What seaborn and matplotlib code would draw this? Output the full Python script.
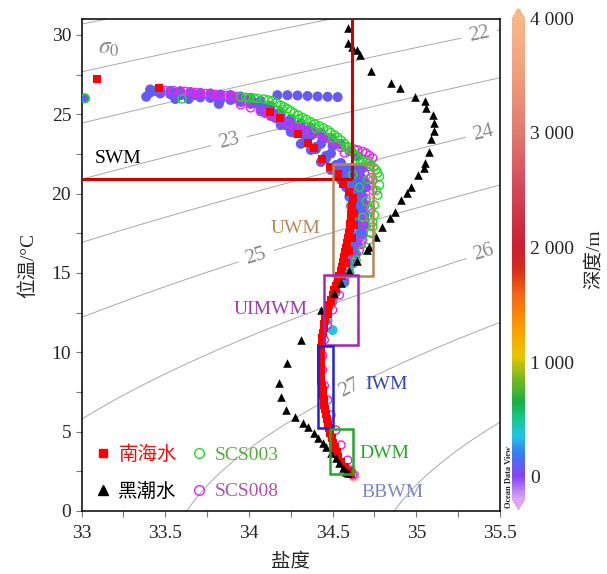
import numpy as np
import pandas as pd
import matplotlib
matplotlib.use("Agg")
import matplotlib.pyplot as plt
import seaborn as sns
from matplotlib.colors import LinearSegmentedColormap, Normalize
from matplotlib.cm import ScalarMappable
from matplotlib.lines import Line2D
from matplotlib.patches import Rectangle
from matplotlib.ticker import MultipleLocator

# ---------------- data ----------------
# South China Sea water (red squares)
scs_S = [33.09, 33.464, 34.126, 34.186, 34.296, 34.35, 34.386, 34.436, 34.486, 34.53,
         34.564, 34.596, 34.62, 34.616,
         34.613, 34.611, 34.608, 34.605, 34.601, 34.597, 34.592, 34.587, 34.582, 34.576,
         34.570, 34.563, 34.556, 34.549, 34.541, 34.532, 34.522, 34.510, 34.500, 34.490,
         34.480, 34.471, 34.463, 34.456, 34.450, 34.446, 34.442, 34.438, 34.435, 34.433,
         34.432, 34.430, 34.430, 34.430, 34.430, 34.431, 34.433, 34.436, 34.440, 34.443,
         34.446, 34.449, 34.453, 34.459, 34.465, 34.472, 34.479, 34.486, 34.494, 34.502,
         34.513, 34.524, 34.535, 34.552, 34.573, 34.595, 34.608,
         34.63, 34.625, 34.615, 34.60, 34.58, 34.555, 34.52, 34.49, 34.47]
scs_T = [27.22, 26.63, 25.16, 24.78, 23.76, 23.17, 22.85, 22.2, 21.66, 21.22,
         20.59, 20.08, 19.7, 19.28,
         19.0, 18.7, 18.4, 18.1, 17.8, 17.5, 17.2, 16.9, 16.6, 16.3,
         16.0, 15.7, 15.4, 15.1, 14.8, 14.5, 14.2, 13.9, 13.6, 13.3,
         13.0, 12.7, 12.4, 12.1, 11.8, 11.5, 11.2, 10.9, 10.6, 10.3,
         10.0, 9.7, 9.4, 9.1, 8.8, 8.5, 8.2, 7.9, 7.6, 7.3,
         7.0, 6.7, 6.4, 6.1, 5.8, 5.5, 5.2, 4.9, 4.6, 4.3,
         4.0, 3.7, 3.4, 3.1, 2.8, 2.5, 2.3,
         18.8, 18.0, 17.2, 16.4, 15.6, 14.8, 14.0, 13.2, 12.4]

# Kuroshio water (black triangles)
ksw_S = [34.59, 34.59, 34.616, 34.646, 34.664, 34.73, 34.85, 34.90, 34.99, 35.054,
         35.06, 35.10, 35.106, 35.106, 35.09, 35.076, 35.052, 35.046, 35.01, 34.97,
         34.946, 34.91, 34.874, 34.842, 34.796, 34.76, 34.72, 34.706, 34.646, 34.60,
         34.55, 34.506, 34.43, 34.31, 34.23, 34.18, 34.19, 34.22, 34.276, 34.324,
         34.352, 34.386, 34.41, 34.44, 34.46, 34.49, 34.52, 34.54, 34.56, 34.58, 34.594]
ksw_T = [30.42, 29.51, 29.26, 29.05, 28.73, 27.73, 26.95, 26.67, 26.1, 25.83,
         25.41, 24.95, 24.47, 23.96, 23.46, 22.64, 21.9, 21.6, 21.17, 20.43,
         20.02, 19.6, 18.86, 18.48, 17.88, 17.25, 16.62, 16.45, 15.77, 15.12,
         14.35, 13.72, 12.67, 10.78, 9.3, 8.04, 7.2, 6.36, 5.9, 5.52,
         5.29, 4.93, 4.58, 4.27, 4.01, 3.64, 3.32, 3.0, 2.69, 2.48, 2.38]

# station SCS003 (green open circles)
scs003_S = [33.02, 33.60, 33.95, 33.98, 34.0, 34.03, 34.05, 34.09, 34.14, 34.19, 34.23,
            34.27, 34.32, 34.37, 34.42, 34.47, 34.51, 34.55, 34.59, 34.63, 34.66,
            34.70, 34.73, 34.76, 34.78, 34.78, 34.77, 34.75, 34.75, 34.74, 34.72,
            34.68, 34.64, 34.60, 34.62, 34.66, 34.70, 34.68, 34.71, 34.73,
            34.115, 34.165, 34.21, 34.25, 34.295, 34.345, 34.395, 34.445, 34.49, 34.53,
            34.57, 34.61, 34.645, 34.68, 34.715, 34.745, 34.77,
            34.20, 34.30, 34.40, 34.50, 34.58, 34.76, 34.74, 34.73]
scs003_T = [26.0, 25.96, 26.09, 26.06, 26.02, 26.01, 26.0, 25.96, 25.85, 25.58, 25.35,
            25.08, 24.8, 24.53, 24.27, 24.0, 23.7, 23.38, 22.96, 22.5, 22.15,
            22.0, 21.8, 21.5, 21.07, 20.54, 19.9, 19.28, 18.65, 17.91, 17.08,
            16.45, 15.82, 15.19, 21.2, 20.4, 19.5, 18.5, 20.9, 19.0,
            25.9, 25.72, 25.47, 25.22, 24.95, 24.67, 24.4, 24.14, 23.85, 23.55,
            23.18, 22.73, 22.33, 22.08, 21.9, 21.65, 21.3,
            25.3, 24.7, 24.1, 23.5, 22.9, 20.2, 18.2, 17.5]

# station SCS008 (magenta open circles)
scs008_S = [33.59, 33.62, 33.65, 33.68, 33.71, 33.74, 33.77, 33.80, 33.83, 33.86,
            33.89, 33.95, 34.01, 34.07, 34.13, 34.2, 34.27, 34.33, 34.41, 34.47,
            34.53, 34.57, 34.65, 34.70, 34.74, 34.71, 34.69, 34.74, 34.74, 34.71,
            34.70, 34.68, 34.66, 34.63, 34.61, 34.57, 34.54, 34.50, 34.47, 34.45,
            34.44, 34.44, 34.45, 34.47, 34.49, 34.52, 34.55, 34.59, 34.61, 34.62,
            34.10, 34.17, 34.24, 34.30, 34.37, 34.44, 34.50, 34.55, 34.60, 34.63,
            34.68, 34.72, 34.72, 34.73, 34.72, 34.70, 34.71, 34.69, 34.67,
            33.92, 33.98, 33.55, 33.50]
scs008_T = [26.47, 26.44, 26.40, 26.37, 26.34, 26.31, 26.28, 26.25, 26.21, 26.18,
            26.15, 25.6, 25.4, 25.16, 24.95, 24.6, 24.2, 24.0, 23.8, 23.48,
            23.17, 22.56, 22.75, 22.56, 22.24, 22.12, 21.3, 20.86, 20.2, 19.17,
            17.91, 17.08, 16.45, 16.02, 15.6, 14.56, 13.6, 12.67, 11.7, 10.78,
            9.8, 8.9, 7.9, 7.0, 6.05, 5.1, 4.16, 3.2, 2.58, 2.27,
            25.05, 24.78, 24.4, 24.1, 23.9, 23.65, 23.3, 22.9, 22.65, 22.8,
            22.65, 22.4, 21.7, 21.0, 20.5, 19.7, 18.6, 18.3, 16.8,
            26.12, 25.85, 26.48, 26.5]

# Ocean Data View background profiles (coloured by depth, m)
odv_surface_S = [33.02, 33.386, 33.56, 33.64, 33.82,
                 33.41, 33.47, 33.53, 33.59, 33.65, 33.71, 33.77, 33.83, 33.89, 33.95,
                 34.01, 34.07, 34.13, 34.19, 34.25, 34.31, 34.37, 34.43, 34.49, 34.55,
                 33.41, 33.47, 33.53, 33.59, 33.65, 33.71, 33.77, 33.83, 33.89, 33.95,
                 34.01, 34.07, 34.13, 34.19, 34.25, 34.31, 34.37, 34.43, 34.49, 34.55,
                 33.44, 33.56, 33.68, 33.80, 33.92,
                 34.04, 34.10, 34.16, 34.22, 34.28, 34.34, 34.40, 34.46, 34.52, 34.58,
                 34.07, 34.13, 34.19, 34.25, 34.31, 34.37, 34.43, 34.49, 34.55, 34.61, 34.65,
                 34.17, 34.23, 34.29, 34.35, 34.41, 34.47, 34.53,
                 34.10, 34.16, 34.22, 34.28, 34.34, 34.40, 34.46, 34.52,
                 34.20, 34.26, 34.32, 34.38, 34.44, 34.50]
odv_surface_T = [26.0, 26.1, 25.96, 25.96, 25.65,
                 26.56, 26.52, 26.47, 26.42, 26.40, 26.34, 26.31, 26.24, 26.21, 26.12,
                 26.03, 25.84, 25.52, 25.14, 24.67, 24.14, 23.66, 23.13, 22.53, 21.93,
                 26.37, 26.31, 26.26, 26.21, 26.15, 26.06, 26.03, 25.93, 25.90, 25.77,
                 25.65, 25.27, 24.89, 24.32, 23.88, 23.13, 22.75, 21.99, 21.49, 20.86,
                 26.47, 26.34, 26.21, 26.12, 26.0,
                 25.71, 25.39, 25.02, 24.52, 24.01, 23.50, 22.94, 22.37, 21.80, 21.23,
                 25.5, 25.2, 24.95, 24.68, 24.42, 24.15, 23.85, 23.5, 23.1, 22.7, 22.35,
                 26.2, 26.2, 26.18, 26.15, 26.12, 26.1, 26.08,
                 25.1, 24.75, 24.3, 23.8, 23.3, 22.8, 22.2, 21.6,
                 24.55, 24.3, 24.05, 23.75, 23.4, 23.0]
odv_surface_depth = 90

odv_body_S = [34.52, 34.56, 34.60, 34.64, 34.68, 34.55, 34.59, 34.63, 34.67,
              34.58, 34.62, 34.66, 34.70, 34.60, 34.64, 34.68, 34.61, 34.65, 34.69,
              34.62, 34.66, 34.69, 34.62, 34.66, 34.69, 34.62, 34.66, 34.68,
              34.61, 34.65, 34.60, 34.64, 34.58, 34.62, 34.56, 34.60, 34.53, 34.57,
              34.52, 34.50, 34.47, 34.50,
              34.54, 34.58, 34.62, 34.66, 34.57, 34.61, 34.65, 34.69, 34.63, 34.67,
              34.64, 34.68, 34.64, 34.68, 34.64, 34.67, 34.63, 34.62,
              34.63, 34.626]
odv_body_T = [21.6, 21.6, 21.6, 21.6, 21.6, 21.0, 21.0, 21.0, 21.0,
              20.4, 20.4, 20.4, 20.4, 19.8, 19.8, 19.8, 19.2, 19.2, 19.2,
              18.6, 18.6, 18.6, 18.0, 18.0, 18.0, 17.4, 17.4, 17.4,
              16.8, 16.8, 16.2, 16.2, 15.6, 15.6, 15.0, 15.0, 14.4, 14.4,
              13.8, 13.2, 12.0, 11.4,
              21.3, 21.3, 21.3, 21.3, 20.7, 20.7, 20.7, 20.7, 20.1, 20.1,
              19.5, 19.5, 18.9, 18.9, 18.3, 17.7, 17.1, 16.5,
              2.25, 2.16]
odv_body_depth = [100, 100, 100, 100, 100, 110, 110, 110, 110,
                  120, 120, 120, 120, 130, 130, 130, 140, 140, 140,
                  150, 150, 150, 160, 160, 160, 170, 170, 170,
                  180, 180, 190, 190, 200, 200, 210, 210, 230, 230,
                  250, 270, 320, 360,
                  105, 105, 105, 105, 115, 115, 115, 115, 125, 125,
                  135, 135, 145, 145, 155, 165, 175, 185,
                  3000, 3900]

# water-mass boxes: (S_min, S_max, T_min, T_max)
boxes = {
    "UWM": (34.50, 34.74, 14.8, 21.85),
    "UIMWM": (34.45, 34.65, 10.46, 14.87),
    "IWM": (34.41, 34.505, 5.25, 10.4),
    "DWM": (34.485, 34.62, 2.31, 5.17),
}
box_colors = {"UWM": "#b5875a", "UIMWM": "#a426b0", "IWM": "#1c22e0", "DWM": "#22a82a"}
label_pos = {"SWM": (33.22, 22.24), "UWM": (34.28, 17.83), "UIMWM": (34.13, 12.67),
             "IWM": (34.82, 7.95), "DWM": (34.81, 3.62), "BBWM": (34.86, 1.15)}
label_colors = {"SWM": "black", "UWM": "#b5875a", "UIMWM": "#a03aa8", "IWM": "#2a48b8",
                "DWM": "#2aa82a", "BBWM": "#7a86c8"}
swm_S_limit = 34.614
swm_T_limit = 20.92

sigma_plain_levels = [20, 21, 28]
sigma_label_levels = [22, 23, 24, 25, 26, 27]
sigma_label_pos = [(35.38, 29.8), (33.88, 23.4), (35.41, 23.5), (34.06, 15.5),
                   (35.41, 16.07), (34.6, 7.75)]

x_ticks = [33, 33.5, 34, 34.5, 35, 35.5]
x_ticklabels = ["33", "33.5", "34", "34.5", "35", "35.5"]
y_ticks = [0, 5, 10, 15, 20, 25, 30]
cb_ticks = [0, 1000, 2000, 3000, 4000]
cb_ticklabels = ["0", "1 000", "2 000", "3 000", "4 000"]

# ---------------- style ----------------
sns.set_theme(style="white")
plt.rcParams["font.family"] = ["Liberation Serif", "Noto Sans CJK SC", "DejaVu Sans"]
plt.rcParams["mathtext.fontset"] = "stix"
plt.rcParams["axes.unicode_minus"] = False

fig = plt.figure(figsize=(6.07, 5.74), dpi=100)
ax = fig.add_axes([0.1344, 0.1098, 0.6893, 0.8571])
ax.set_xlim(33, 35.5)
ax.set_ylim(0, 31)

# ODV-like depth colormap
vmin, vmax = -200, 4000
nodes = [(-200, "#dca6f6"), (0, "#8244f0"), (200, "#3a7cf2"), (350, "#22c4e6"),
         (500, "#14c88e"), (650, "#18b040"), (850, "#76b820"), (1050, "#e8c600"),
         (1300, "#ff9c00"), (1600, "#f26414"), (1800, "#dc2c18"), (2000, "#c81e30"),
         (2500, "#d4465a"), (3000, "#e2786e"), (3500, "#f09c7c"), (4000, "#f8b888")]
depth_cmap = LinearSegmentedColormap.from_list(
    "odv", [((v - vmin) / (vmax - vmin), c) for v, c in nodes])
depth_norm = Normalize(vmin=vmin, vmax=vmax)

# isopycnals (UNESCO EOS-80 at p = 0)
def sigma0(S, T):
    rw = (999.842594 + 6.793952e-2 * T - 9.095290e-3 * T**2 + 1.001685e-4 * T**3
          - 1.120083e-6 * T**4 + 6.536332e-9 * T**5)
    A = 8.24493e-1 - 4.0899e-3 * T + 7.6438e-5 * T**2 - 8.2467e-7 * T**3 + 5.3875e-9 * T**4
    B = -5.72466e-3 + 1.0227e-4 * T - 1.6546e-6 * T**2
    C = 4.8314e-4
    return rw + A * S + B * S**1.5 + C * S**2 - 1000.0

Sg, Tg = np.meshgrid(np.linspace(32.9, 35.6, 300), np.linspace(-0.5, 31.5, 300))
Zg = sigma0(Sg, Tg)
ax.contour(Sg, Tg, Zg, levels=sigma_plain_levels, colors="#a8a8a8",
           linewidths=0.7, zorder=1)
cs = ax.contour(Sg, Tg, Zg, levels=sigma_label_levels, colors="#a8a8a8",
                linewidths=0.7, zorder=1)
ax.clabel(cs, manual=sigma_label_pos, fmt="%d",
          fontsize=15, colors="#8a8a8a", inline=True, inline_spacing=8)
ax.text(33.165, 29.15, r"$\sigma_0$", color="#8a8a8a", fontsize=17, ha="center",
        va="center", zorder=2)

# ODV background data
odv = pd.concat([
    pd.DataFrame({"S": odv_surface_S, "T": odv_surface_T, "depth": odv_surface_depth}),
    pd.DataFrame({"S": odv_body_S, "T": odv_body_T, "depth": odv_body_depth}),
], ignore_index=True)
sns.scatterplot(data=odv, x="S", y="T", hue="depth", palette=depth_cmap,
                hue_norm=depth_norm, s=52, linewidth=0, legend=False, ax=ax, zorder=3)

# stations
sns.scatterplot(x=scs008_S, y=scs008_T, s=34, color="#ee22ee", ax=ax, zorder=4)
c = ax.collections[-1]
c.set_facecolor("none"); c.set_edgecolor("#ee22ee"); c.set_linewidth(1.0)
sns.scatterplot(x=scs003_S, y=scs003_T, s=34, color="#22dd22", ax=ax, zorder=5)
c = ax.collections[-1]
c.set_facecolor("none"); c.set_edgecolor("#22dd22"); c.set_linewidth(1.0)

sns.scatterplot(x=scs_S, y=scs_T, marker="s", s=26, color="#ff0000", linewidth=0,
                ax=ax, zorder=6)
sns.scatterplot(x=ksw_S, y=ksw_T, marker="^", s=38, color="black", linewidth=0,
                ax=ax, zorder=7)

# SWM limits
ax.plot([33, swm_S_limit], [swm_T_limit, swm_T_limit], color="#cc0000", lw=2.2, zorder=8,
        solid_capstyle="butt")
ax.plot([swm_S_limit, swm_S_limit], [swm_T_limit, 31], color="#cc0000", lw=2.2, zorder=8,
        solid_capstyle="butt")

for name, (s0, s1, t0, t1) in boxes.items():
    ax.add_patch(Rectangle((s0, t0), s1 - s0, t1 - t0, fill=False,
                           edgecolor=box_colors[name], lw=1.8, zorder=8))
for name, (sx, ty) in label_pos.items():
    ax.text(sx, ty, name, color=label_colors[name], fontsize=14, ha="center",
            va="center", zorder=9)

ax.set_xlim(33, 35.5)
ax.set_ylim(0, 31)
ax.set_xticks(x_ticks)
ax.set_xticklabels(x_ticklabels)
ax.set_yticks(y_ticks)
ax.xaxis.set_minor_locator(MultipleLocator(0.25))
ax.yaxis.set_minor_locator(MultipleLocator(2.5))
ax.tick_params(which="both", direction="out", length=4, width=0.8, color="#777777",
               labelsize=14, bottom=True, left=True)
ax.tick_params(axis="x", pad=6)
for sp in ax.spines.values():
    sp.set_color("black"); sp.set_linewidth(1.1)
ax.set_xlabel("盐度", fontsize=14, labelpad=8)
ax.set_ylabel("位温/°C", fontsize=14, labelpad=10)

# legend
handles = [
    Line2D([], [], marker="s", ls="none", color="#ff0000", markersize=6),
    Line2D([], [], marker="^", ls="none", color="black", markersize=7),
    Line2D([], [], marker="o", ls="none", markerfacecolor="none",
           markeredgecolor="#22dd22", markersize=7),
    Line2D([], [], marker="o", ls="none", markerfacecolor="none",
           markeredgecolor="#ee22ee", markersize=7),
]
leg = ax.legend(handles, ["南海水", "黑潮水", "SCS003", "SCS008"], ncol=2,
                loc="lower left", bbox_to_anchor=(-0.005, -0.015), frameon=False,
                fontsize=14, handlelength=0.6, handletextpad=0.5,
                columnspacing=0.85, labelspacing=0.95)
for t, col in zip(leg.get_texts(), ["#ee1111", "black", "#55b03a", "#b050b0"]):
    t.set_color(col)

# colourbar
cax = fig.add_axes([0.8443, 0.1124, 0.0198, 0.8728])
cb = fig.colorbar(ScalarMappable(norm=depth_norm, cmap=depth_cmap), cax=cax,
                  extend="both", extendfrac=0.02, ticks=cb_ticks)
cb.outline.set_visible(False)
cb.ax.set_yticklabels(cb_ticklabels)
cb.ax.tick_params(length=0, labelsize=14, pad=4)
cb.set_label("深度/m", fontsize=14, labelpad=8)
fig.text(0.839, 0.115, "Ocean Data View", rotation=90, fontsize=6, weight="bold",
         ha="center", va="bottom")

fig.savefig("out.png", dpi=100)
